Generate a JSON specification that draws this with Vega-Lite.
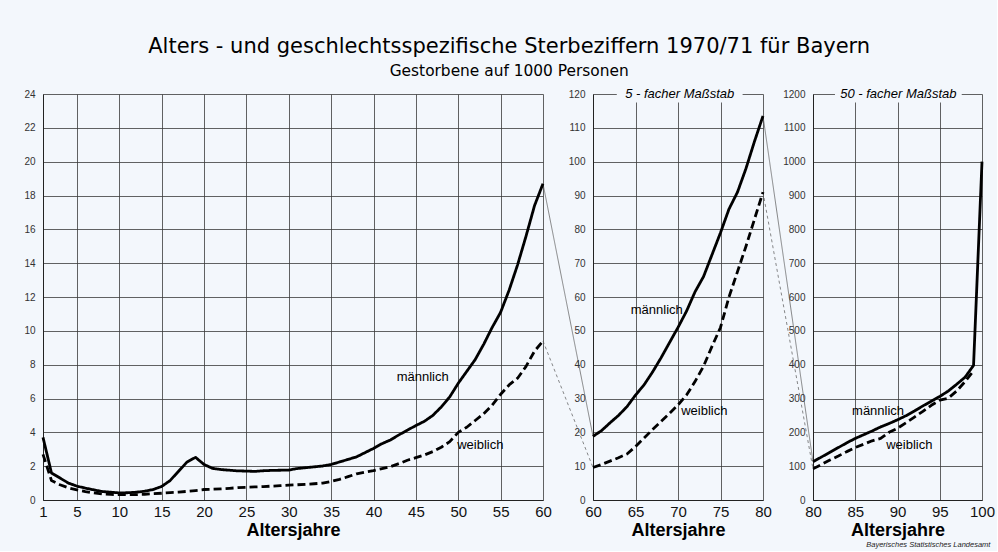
{
  "$schema": "https://vega.github.io/schema/vega-lite/v6.json",
  "background": "#f3f7fc",
  "padding": {"left": 23, "right": 2, "top": 36, "bottom": 2},
  "title": {
    "text": "Alters - und geschlechtsspezifische Sterbeziffern 1970/71 für Bayern",
    "subtitle": "Gestorbene auf 1000 Personen",
    "font": "DejaVu Sans",
    "subtitleFont": "DejaVu Sans",
    "fontSize": 21,
    "fontWeight": "normal",
    "subtitleFontSize": 15.4,
    "subtitlePadding": 7,
    "color": "#000",
    "subtitleColor": "#000",
    "anchor": "middle",
    "offset": 6
  },
  "datasets": {
    "raten": [
      {"tafel": "a", "geschlecht": "männlich", "alter": 1, "rate": 3.7},
      {"tafel": "a", "geschlecht": "männlich", "alter": 2, "rate": 1.6},
      {"tafel": "a", "geschlecht": "männlich", "alter": 3, "rate": 1.3},
      {"tafel": "a", "geschlecht": "männlich", "alter": 4, "rate": 1.0},
      {"tafel": "a", "geschlecht": "männlich", "alter": 5, "rate": 0.82},
      {"tafel": "a", "geschlecht": "männlich", "alter": 6, "rate": 0.7},
      {"tafel": "a", "geschlecht": "männlich", "alter": 7, "rate": 0.6},
      {"tafel": "a", "geschlecht": "männlich", "alter": 8, "rate": 0.5},
      {"tafel": "a", "geschlecht": "männlich", "alter": 9, "rate": 0.46},
      {"tafel": "a", "geschlecht": "männlich", "alter": 10, "rate": 0.42},
      {"tafel": "a", "geschlecht": "männlich", "alter": 11, "rate": 0.43},
      {"tafel": "a", "geschlecht": "männlich", "alter": 12, "rate": 0.46},
      {"tafel": "a", "geschlecht": "männlich", "alter": 13, "rate": 0.52},
      {"tafel": "a", "geschlecht": "männlich", "alter": 14, "rate": 0.62},
      {"tafel": "a", "geschlecht": "männlich", "alter": 15, "rate": 0.8},
      {"tafel": "a", "geschlecht": "männlich", "alter": 16, "rate": 1.15},
      {"tafel": "a", "geschlecht": "männlich", "alter": 17, "rate": 1.7},
      {"tafel": "a", "geschlecht": "männlich", "alter": 18, "rate": 2.25},
      {"tafel": "a", "geschlecht": "männlich", "alter": 19, "rate": 2.52},
      {"tafel": "a", "geschlecht": "männlich", "alter": 20, "rate": 2.1},
      {"tafel": "a", "geschlecht": "männlich", "alter": 21, "rate": 1.87},
      {"tafel": "a", "geschlecht": "männlich", "alter": 22, "rate": 1.8},
      {"tafel": "a", "geschlecht": "männlich", "alter": 23, "rate": 1.76},
      {"tafel": "a", "geschlecht": "männlich", "alter": 24, "rate": 1.72},
      {"tafel": "a", "geschlecht": "männlich", "alter": 25, "rate": 1.71},
      {"tafel": "a", "geschlecht": "männlich", "alter": 26, "rate": 1.69},
      {"tafel": "a", "geschlecht": "männlich", "alter": 27, "rate": 1.73},
      {"tafel": "a", "geschlecht": "männlich", "alter": 28, "rate": 1.75},
      {"tafel": "a", "geschlecht": "männlich", "alter": 29, "rate": 1.76},
      {"tafel": "a", "geschlecht": "männlich", "alter": 30, "rate": 1.77},
      {"tafel": "a", "geschlecht": "männlich", "alter": 31, "rate": 1.86},
      {"tafel": "a", "geschlecht": "männlich", "alter": 32, "rate": 1.91},
      {"tafel": "a", "geschlecht": "männlich", "alter": 33, "rate": 1.96},
      {"tafel": "a", "geschlecht": "männlich", "alter": 34, "rate": 2.01},
      {"tafel": "a", "geschlecht": "männlich", "alter": 35, "rate": 2.1},
      {"tafel": "a", "geschlecht": "männlich", "alter": 36, "rate": 2.25},
      {"tafel": "a", "geschlecht": "männlich", "alter": 37, "rate": 2.4},
      {"tafel": "a", "geschlecht": "männlich", "alter": 38, "rate": 2.55},
      {"tafel": "a", "geschlecht": "männlich", "alter": 39, "rate": 2.8},
      {"tafel": "a", "geschlecht": "männlich", "alter": 40, "rate": 3.05},
      {"tafel": "a", "geschlecht": "männlich", "alter": 41, "rate": 3.33},
      {"tafel": "a", "geschlecht": "männlich", "alter": 42, "rate": 3.55},
      {"tafel": "a", "geschlecht": "männlich", "alter": 43, "rate": 3.85},
      {"tafel": "a", "geschlecht": "männlich", "alter": 44, "rate": 4.13},
      {"tafel": "a", "geschlecht": "männlich", "alter": 45, "rate": 4.4},
      {"tafel": "a", "geschlecht": "männlich", "alter": 46, "rate": 4.65},
      {"tafel": "a", "geschlecht": "männlich", "alter": 47, "rate": 5.0},
      {"tafel": "a", "geschlecht": "männlich", "alter": 48, "rate": 5.5},
      {"tafel": "a", "geschlecht": "männlich", "alter": 49, "rate": 6.1},
      {"tafel": "a", "geschlecht": "männlich", "alter": 50, "rate": 6.9},
      {"tafel": "a", "geschlecht": "männlich", "alter": 51, "rate": 7.6},
      {"tafel": "a", "geschlecht": "männlich", "alter": 52, "rate": 8.3},
      {"tafel": "a", "geschlecht": "männlich", "alter": 53, "rate": 9.2},
      {"tafel": "a", "geschlecht": "männlich", "alter": 54, "rate": 10.2},
      {"tafel": "a", "geschlecht": "männlich", "alter": 55, "rate": 11.1},
      {"tafel": "a", "geschlecht": "männlich", "alter": 56, "rate": 12.4},
      {"tafel": "a", "geschlecht": "männlich", "alter": 57, "rate": 13.9},
      {"tafel": "a", "geschlecht": "männlich", "alter": 58, "rate": 15.6},
      {"tafel": "a", "geschlecht": "männlich", "alter": 59, "rate": 17.4},
      {"tafel": "a", "geschlecht": "männlich", "alter": 60, "rate": 18.7},
      {"tafel": "a", "geschlecht": "weiblich", "alter": 1, "rate": 2.7},
      {"tafel": "a", "geschlecht": "weiblich", "alter": 2, "rate": 1.15},
      {"tafel": "a", "geschlecht": "weiblich", "alter": 3, "rate": 0.9},
      {"tafel": "a", "geschlecht": "weiblich", "alter": 4, "rate": 0.72},
      {"tafel": "a", "geschlecht": "weiblich", "alter": 5, "rate": 0.6},
      {"tafel": "a", "geschlecht": "weiblich", "alter": 6, "rate": 0.5},
      {"tafel": "a", "geschlecht": "weiblich", "alter": 7, "rate": 0.42},
      {"tafel": "a", "geschlecht": "weiblich", "alter": 8, "rate": 0.36},
      {"tafel": "a", "geschlecht": "weiblich", "alter": 9, "rate": 0.33},
      {"tafel": "a", "geschlecht": "weiblich", "alter": 10, "rate": 0.32},
      {"tafel": "a", "geschlecht": "weiblich", "alter": 11, "rate": 0.31},
      {"tafel": "a", "geschlecht": "weiblich", "alter": 12, "rate": 0.32},
      {"tafel": "a", "geschlecht": "weiblich", "alter": 13, "rate": 0.34},
      {"tafel": "a", "geschlecht": "weiblich", "alter": 14, "rate": 0.37},
      {"tafel": "a", "geschlecht": "weiblich", "alter": 15, "rate": 0.4},
      {"tafel": "a", "geschlecht": "weiblich", "alter": 16, "rate": 0.44},
      {"tafel": "a", "geschlecht": "weiblich", "alter": 17, "rate": 0.47},
      {"tafel": "a", "geschlecht": "weiblich", "alter": 18, "rate": 0.51},
      {"tafel": "a", "geschlecht": "weiblich", "alter": 19, "rate": 0.56},
      {"tafel": "a", "geschlecht": "weiblich", "alter": 20, "rate": 0.62},
      {"tafel": "a", "geschlecht": "weiblich", "alter": 21, "rate": 0.64},
      {"tafel": "a", "geschlecht": "weiblich", "alter": 22, "rate": 0.66},
      {"tafel": "a", "geschlecht": "weiblich", "alter": 23, "rate": 0.69},
      {"tafel": "a", "geschlecht": "weiblich", "alter": 24, "rate": 0.73},
      {"tafel": "a", "geschlecht": "weiblich", "alter": 25, "rate": 0.75},
      {"tafel": "a", "geschlecht": "weiblich", "alter": 26, "rate": 0.77},
      {"tafel": "a", "geschlecht": "weiblich", "alter": 27, "rate": 0.79},
      {"tafel": "a", "geschlecht": "weiblich", "alter": 28, "rate": 0.82},
      {"tafel": "a", "geschlecht": "weiblich", "alter": 29, "rate": 0.85},
      {"tafel": "a", "geschlecht": "weiblich", "alter": 30, "rate": 0.88},
      {"tafel": "a", "geschlecht": "weiblich", "alter": 31, "rate": 0.9},
      {"tafel": "a", "geschlecht": "weiblich", "alter": 32, "rate": 0.93},
      {"tafel": "a", "geschlecht": "weiblich", "alter": 33, "rate": 0.96},
      {"tafel": "a", "geschlecht": "weiblich", "alter": 34, "rate": 1.0},
      {"tafel": "a", "geschlecht": "weiblich", "alter": 35, "rate": 1.1},
      {"tafel": "a", "geschlecht": "weiblich", "alter": 36, "rate": 1.22},
      {"tafel": "a", "geschlecht": "weiblich", "alter": 37, "rate": 1.38},
      {"tafel": "a", "geschlecht": "weiblich", "alter": 38, "rate": 1.55},
      {"tafel": "a", "geschlecht": "weiblich", "alter": 39, "rate": 1.65},
      {"tafel": "a", "geschlecht": "weiblich", "alter": 40, "rate": 1.74},
      {"tafel": "a", "geschlecht": "weiblich", "alter": 41, "rate": 1.85},
      {"tafel": "a", "geschlecht": "weiblich", "alter": 42, "rate": 1.97},
      {"tafel": "a", "geschlecht": "weiblich", "alter": 43, "rate": 2.15},
      {"tafel": "a", "geschlecht": "weiblich", "alter": 44, "rate": 2.35},
      {"tafel": "a", "geschlecht": "weiblich", "alter": 45, "rate": 2.5},
      {"tafel": "a", "geschlecht": "weiblich", "alter": 46, "rate": 2.66},
      {"tafel": "a", "geschlecht": "weiblich", "alter": 47, "rate": 2.86},
      {"tafel": "a", "geschlecht": "weiblich", "alter": 48, "rate": 3.12},
      {"tafel": "a", "geschlecht": "weiblich", "alter": 49, "rate": 3.45},
      {"tafel": "a", "geschlecht": "weiblich", "alter": 50, "rate": 4.0},
      {"tafel": "a", "geschlecht": "weiblich", "alter": 51, "rate": 4.3},
      {"tafel": "a", "geschlecht": "weiblich", "alter": 52, "rate": 4.7},
      {"tafel": "a", "geschlecht": "weiblich", "alter": 53, "rate": 5.1},
      {"tafel": "a", "geschlecht": "weiblich", "alter": 54, "rate": 5.6},
      {"tafel": "a", "geschlecht": "weiblich", "alter": 55, "rate": 6.25},
      {"tafel": "a", "geschlecht": "weiblich", "alter": 56, "rate": 6.8},
      {"tafel": "a", "geschlecht": "weiblich", "alter": 57, "rate": 7.2},
      {"tafel": "a", "geschlecht": "weiblich", "alter": 58, "rate": 7.9},
      {"tafel": "a", "geschlecht": "weiblich", "alter": 59, "rate": 8.8},
      {"tafel": "a", "geschlecht": "weiblich", "alter": 60, "rate": 9.4},
      {"tafel": "b", "geschlecht": "männlich", "alter": 60, "rate": 18.8},
      {"tafel": "b", "geschlecht": "männlich", "alter": 61, "rate": 20.5},
      {"tafel": "b", "geschlecht": "männlich", "alter": 62, "rate": 22.8},
      {"tafel": "b", "geschlecht": "männlich", "alter": 63, "rate": 25.0},
      {"tafel": "b", "geschlecht": "männlich", "alter": 64, "rate": 27.6},
      {"tafel": "b", "geschlecht": "männlich", "alter": 65, "rate": 31.0},
      {"tafel": "b", "geschlecht": "männlich", "alter": 66, "rate": 34.0},
      {"tafel": "b", "geschlecht": "männlich", "alter": 67, "rate": 37.8},
      {"tafel": "b", "geschlecht": "männlich", "alter": 68, "rate": 42.0},
      {"tafel": "b", "geschlecht": "männlich", "alter": 69, "rate": 46.5},
      {"tafel": "b", "geschlecht": "männlich", "alter": 70, "rate": 51.0},
      {"tafel": "b", "geschlecht": "männlich", "alter": 71, "rate": 55.8},
      {"tafel": "b", "geschlecht": "männlich", "alter": 72, "rate": 61.5},
      {"tafel": "b", "geschlecht": "männlich", "alter": 73, "rate": 66.0},
      {"tafel": "b", "geschlecht": "männlich", "alter": 74, "rate": 72.5},
      {"tafel": "b", "geschlecht": "männlich", "alter": 75, "rate": 79.0},
      {"tafel": "b", "geschlecht": "männlich", "alter": 76, "rate": 86.0},
      {"tafel": "b", "geschlecht": "männlich", "alter": 77, "rate": 91.0},
      {"tafel": "b", "geschlecht": "männlich", "alter": 78, "rate": 98.0},
      {"tafel": "b", "geschlecht": "männlich", "alter": 79, "rate": 106.0},
      {"tafel": "b", "geschlecht": "männlich", "alter": 80, "rate": 113.5},
      {"tafel": "b", "geschlecht": "weiblich", "alter": 60, "rate": 9.6},
      {"tafel": "b", "geschlecht": "weiblich", "alter": 61, "rate": 10.5},
      {"tafel": "b", "geschlecht": "weiblich", "alter": 62, "rate": 11.5},
      {"tafel": "b", "geschlecht": "weiblich", "alter": 63, "rate": 12.5},
      {"tafel": "b", "geschlecht": "weiblich", "alter": 64, "rate": 13.6},
      {"tafel": "b", "geschlecht": "weiblich", "alter": 65, "rate": 15.8},
      {"tafel": "b", "geschlecht": "weiblich", "alter": 66, "rate": 18.3},
      {"tafel": "b", "geschlecht": "weiblich", "alter": 67, "rate": 20.8},
      {"tafel": "b", "geschlecht": "weiblich", "alter": 68, "rate": 23.2},
      {"tafel": "b", "geschlecht": "weiblich", "alter": 69, "rate": 25.6},
      {"tafel": "b", "geschlecht": "weiblich", "alter": 70, "rate": 28.1},
      {"tafel": "b", "geschlecht": "weiblich", "alter": 71, "rate": 31.0},
      {"tafel": "b", "geschlecht": "weiblich", "alter": 72, "rate": 35.0},
      {"tafel": "b", "geschlecht": "weiblich", "alter": 73, "rate": 39.5},
      {"tafel": "b", "geschlecht": "weiblich", "alter": 74, "rate": 45.4},
      {"tafel": "b", "geschlecht": "weiblich", "alter": 75, "rate": 51.0},
      {"tafel": "b", "geschlecht": "weiblich", "alter": 76, "rate": 60.0},
      {"tafel": "b", "geschlecht": "weiblich", "alter": 77, "rate": 67.5},
      {"tafel": "b", "geschlecht": "weiblich", "alter": 78, "rate": 75.0},
      {"tafel": "b", "geschlecht": "weiblich", "alter": 79, "rate": 83.0},
      {"tafel": "b", "geschlecht": "weiblich", "alter": 80, "rate": 91.0},
      {"tafel": "c", "geschlecht": "männlich", "alter": 80, "rate": 113},
      {"tafel": "c", "geschlecht": "männlich", "alter": 81, "rate": 127},
      {"tafel": "c", "geschlecht": "männlich", "alter": 82, "rate": 141},
      {"tafel": "c", "geschlecht": "männlich", "alter": 83, "rate": 155},
      {"tafel": "c", "geschlecht": "männlich", "alter": 84, "rate": 169},
      {"tafel": "c", "geschlecht": "männlich", "alter": 85, "rate": 182},
      {"tafel": "c", "geschlecht": "männlich", "alter": 86, "rate": 193},
      {"tafel": "c", "geschlecht": "männlich", "alter": 87, "rate": 204},
      {"tafel": "c", "geschlecht": "männlich", "alter": 88, "rate": 216},
      {"tafel": "c", "geschlecht": "männlich", "alter": 89, "rate": 226},
      {"tafel": "c", "geschlecht": "männlich", "alter": 90, "rate": 237},
      {"tafel": "c", "geschlecht": "männlich", "alter": 91, "rate": 249},
      {"tafel": "c", "geschlecht": "männlich", "alter": 92, "rate": 263},
      {"tafel": "c", "geschlecht": "männlich", "alter": 93, "rate": 278},
      {"tafel": "c", "geschlecht": "männlich", "alter": 94, "rate": 292},
      {"tafel": "c", "geschlecht": "männlich", "alter": 95, "rate": 306},
      {"tafel": "c", "geschlecht": "männlich", "alter": 96, "rate": 322},
      {"tafel": "c", "geschlecht": "männlich", "alter": 97, "rate": 342},
      {"tafel": "c", "geschlecht": "männlich", "alter": 98, "rate": 363},
      {"tafel": "c", "geschlecht": "männlich", "alter": 99, "rate": 398},
      {"tafel": "c", "geschlecht": "männlich", "alter": 100, "rate": 1000},
      {"tafel": "c", "geschlecht": "weiblich", "alter": 80, "rate": 92},
      {"tafel": "c", "geschlecht": "weiblich", "alter": 81, "rate": 105},
      {"tafel": "c", "geschlecht": "weiblich", "alter": 82, "rate": 118},
      {"tafel": "c", "geschlecht": "weiblich", "alter": 83, "rate": 130},
      {"tafel": "c", "geschlecht": "weiblich", "alter": 84, "rate": 143},
      {"tafel": "c", "geschlecht": "weiblich", "alter": 85, "rate": 155},
      {"tafel": "c", "geschlecht": "weiblich", "alter": 86, "rate": 165},
      {"tafel": "c", "geschlecht": "weiblich", "alter": 87, "rate": 175},
      {"tafel": "c", "geschlecht": "weiblich", "alter": 88, "rate": 182},
      {"tafel": "c", "geschlecht": "weiblich", "alter": 89, "rate": 200},
      {"tafel": "c", "geschlecht": "weiblich", "alter": 90, "rate": 212},
      {"tafel": "c", "geschlecht": "weiblich", "alter": 91, "rate": 228},
      {"tafel": "c", "geschlecht": "weiblich", "alter": 92, "rate": 245},
      {"tafel": "c", "geschlecht": "weiblich", "alter": 93, "rate": 262},
      {"tafel": "c", "geschlecht": "weiblich", "alter": 94, "rate": 280},
      {"tafel": "c", "geschlecht": "weiblich", "alter": 95, "rate": 295},
      {"tafel": "c", "geschlecht": "weiblich", "alter": 96, "rate": 301},
      {"tafel": "c", "geschlecht": "weiblich", "alter": 97, "rate": 322},
      {"tafel": "c", "geschlecht": "weiblich", "alter": 98, "rate": 350},
      {"tafel": "c", "geschlecht": "weiblich", "alter": 99, "rate": 382}
    ],
    "verbindungen": [
      {"tafel": "a", "geschlecht": "männlich", "alter": 60, "rate": 18.7, "alter2": 65.9, "rate2": 3.76},
      {"tafel": "a", "geschlecht": "weiblich", "alter": 60, "rate": 9.4, "alter2": 65.9, "rate2": 1.92},
      {"tafel": "b", "geschlecht": "männlich", "alter": 80, "rate": 113.5, "alter2": 85.88, "rate2": 11.3},
      {"tafel": "b", "geschlecht": "weiblich", "alter": 80, "rate": 91, "alter2": 85.88, "rate2": 9.2}
    ],
    "beschriftung": [
      {"tafel": "a", "text": "männlich", "alter": 45.8, "rate": 7.27},
      {"tafel": "a", "text": "weiblich", "alter": 52.6, "rate": 3.25},
      {"tafel": "b", "text": "männlich", "alter": 67.5, "rate": 56.3},
      {"tafel": "b", "text": "weiblich", "alter": 73.1, "rate": 26.2},
      {"tafel": "c", "text": "männlich", "alter": 87.7, "rate": 264},
      {"tafel": "c", "text": "weiblich", "alter": 91.4, "rate": 163}
    ],
    "massstab": [
      {"tafel": "b", "text": "5 - facher Maßstab", "alter": 70.2, "rate": 120, "alter2": 62.8, "alter3": 77.6, "rate2": 117.5, "rate3": 122.5},
      {"tafel": "c", "text": "50 - facher Maßstab", "alter": 90.1, "rate": 1200, "alter2": 82.6, "alter3": 97.6, "rate2": 1175, "rate3": 1225}
    ],
    "quelle": [
      {"text": "Bayerisches Statistisches Landesamt", "alter": 101, "rate": -132}
    ]
  },
  "spacing": 50,
  "bounds": "flush",
  "hconcat": [
    {
      "width": 500,
      "height": 406,
      "encoding": {
        "x": {"field": "alter", "type": "quantitative", "title": "Altersjahre",
              "scale": {"domain": [1, 60], "nice": false, "zero": false},
              "axis": {"values": [1, 5, 10, 15, 20, 25, 30, 35, 40, 45, 50, 55, 60]}},
        "y": {"field": "rate", "type": "quantitative",
              "scale": {"domain": [0, 24], "nice": false},
              "axis": {"values": [0, 2, 4, 6, 8, 10, 12, 14, 16, 18, 20, 22, 24], "format": "d"}}
      },
      "layer": [
        {
          "data": {"name": "verbindungen"},
          "transform": [{"filter": "datum.tafel == 'a'"}],
          "mark": {"type": "rule", "strokeWidth": 0.7, "color": "#555"},
          "encoding": {
            "x2": {"field": "alter2"},
            "y2": {"field": "rate2"},
            "strokeDash": {"field": "geschlecht", "type": "nominal", "legend": null,
                           "scale": {"domain": ["männlich", "weiblich"], "range": [[1, 0], [3, 3]]}}
          }
        },
        {
          "data": {"name": "raten"},
          "transform": [{"filter": "datum.tafel == 'a'"}],
          "mark": {"type": "line", "strokeWidth": 2.8, "color": "#000", "strokeJoin": "round"},
          "encoding": {
            "strokeDash": {"field": "geschlecht", "type": "nominal", "legend": null,
                           "scale": {"domain": ["männlich", "weiblich"], "range": [[1, 0], [8, 4]]}}
          }
        },
        {
          "data": {"name": "beschriftung"},
          "transform": [{"filter": "datum.tafel == 'a'"}],
          "mark": {"type": "text", "fontSize": 13, "color": "#000", "align": "center", "baseline": "middle"},
          "encoding": {"text": {"field": "text"}}
        }
      ],
      "resolve": {"scale": {"strokeDash": "independent"}}
    },
    {
      "width": 170,
      "height": 406,
      "encoding": {
        "x": {"field": "alter", "type": "quantitative", "title": "Altersjahre",
              "scale": {"domain": [60, 80], "nice": false, "zero": false},
              "axis": {"values": [60, 65, 70, 75, 80]}},
        "y": {"field": "rate", "type": "quantitative",
              "scale": {"domain": [0, 120], "nice": false},
              "axis": {"values": [0, 10, 20, 30, 40, 50, 60, 70, 80, 90, 100, 110, 120], "format": "d"}}
      },
      "layer": [
        {
          "data": {"name": "verbindungen"},
          "transform": [{"filter": "datum.tafel == 'b'"}],
          "mark": {"type": "rule", "strokeWidth": 0.7, "color": "#555"},
          "encoding": {
            "x2": {"field": "alter2"},
            "y2": {"field": "rate2"},
            "strokeDash": {"field": "geschlecht", "type": "nominal", "legend": null,
                           "scale": {"domain": ["männlich", "weiblich"], "range": [[1, 0], [3, 3]]}}
          }
        },
        {
          "data": {"name": "raten"},
          "transform": [{"filter": "datum.tafel == 'b'"}],
          "mark": {"type": "line", "strokeWidth": 2.8, "color": "#000", "strokeJoin": "round"},
          "encoding": {
            "strokeDash": {"field": "geschlecht", "type": "nominal", "legend": null,
                           "scale": {"domain": ["männlich", "weiblich"], "range": [[1, 0], [8, 4]]}}
          }
        },
        {
          "data": {"name": "beschriftung"},
          "transform": [{"filter": "datum.tafel == 'b'"}],
          "mark": {"type": "text", "fontSize": 13, "color": "#000", "align": "center", "baseline": "middle"},
          "encoding": {"text": {"field": "text"}}
        },
        {
          "data": {"name": "massstab"},
          "transform": [{"filter": "datum.tafel == 'b'"}],
          "mark": {"type": "rect", "fill": "#f3f7fc"},
          "encoding": {
            "x": {"field": "alter2", "type": "quantitative"},
            "x2": {"field": "alter3"},
            "y": {"field": "rate2", "type": "quantitative"},
            "y2": {"field": "rate3"}
          }
        },
        {
          "data": {"name": "massstab"},
          "transform": [{"filter": "datum.tafel == 'b'"}],
          "mark": {"type": "text", "fontSize": 13, "fontStyle": "italic", "color": "#000", "align": "center", "baseline": "middle"},
          "encoding": {"text": {"field": "text"}}
        }
      ],
      "resolve": {"scale": {"strokeDash": "independent"}}
    },
    {
      "width": 169,
      "height": 406,
      "encoding": {
        "x": {"field": "alter", "type": "quantitative", "title": "Altersjahre",
              "scale": {"domain": [80, 100], "nice": false, "zero": false},
              "axis": {"values": [80, 85, 90, 95, 100]}},
        "y": {"field": "rate", "type": "quantitative",
              "scale": {"domain": [0, 1200], "nice": false},
              "axis": {"values": [0, 100, 200, 300, 400, 500, 600, 700, 800, 900, 1000, 1100, 1200], "format": "d"}}
      },
      "layer": [
        {
          "data": {"name": "raten"},
          "transform": [{"filter": "datum.tafel == 'c'"}],
          "mark": {"type": "line", "strokeWidth": 2.8, "color": "#000", "strokeJoin": "round"},
          "encoding": {
            "strokeDash": {"field": "geschlecht", "type": "nominal", "legend": null,
                           "scale": {"domain": ["männlich", "weiblich"], "range": [[1, 0], [8, 4]]}}
          }
        },
        {
          "data": {"name": "beschriftung"},
          "transform": [{"filter": "datum.tafel == 'c'"}],
          "mark": {"type": "text", "fontSize": 13, "color": "#000", "align": "center", "baseline": "middle"},
          "encoding": {"text": {"field": "text"}}
        },
        {
          "data": {"name": "massstab"},
          "transform": [{"filter": "datum.tafel == 'c'"}],
          "mark": {"type": "rect", "fill": "#f3f7fc"},
          "encoding": {
            "x": {"field": "alter2", "type": "quantitative"},
            "x2": {"field": "alter3"},
            "y": {"field": "rate2", "type": "quantitative"},
            "y2": {"field": "rate3"}
          }
        },
        {
          "data": {"name": "massstab"},
          "transform": [{"filter": "datum.tafel == 'c'"}],
          "mark": {"type": "text", "fontSize": 13, "fontStyle": "italic", "color": "#000", "align": "center", "baseline": "middle"},
          "encoding": {"text": {"field": "text"}}
        },
        {
          "data": {"name": "quelle"},
          "mark": {"type": "text", "fontSize": 7.5, "fontStyle": "italic", "color": "#222", "align": "right", "baseline": "middle"},
          "encoding": {"text": {"field": "text"}}
        }
      ]
    }
  ],
  "config": {
    "font": "Liberation Sans",
    "view": {"stroke": null},
    "axis": {
      "grid": true,
      "gridColor": "#3a3a3a",
      "gridWidth": 0.8,
      "domainColor": "#222",
      "domainWidth": 1,
      "ticks": false,
      "labelColor": "#111"
    },
    "axisX": {
      "labelFontSize": 15,
      "labelPadding": 4,
      "labelFlush": false,
      "labelOverlap": false,
      "titleFontSize": 18,
      "titleFontWeight": "bold",
      "titleColor": "#000",
      "titlePadding": 2
    },
    "axisY": {
      "labelFontSize": 10,
      "labelPadding": 8,
      "labelColor": "#333",
      "title": null
    }
  }
}
